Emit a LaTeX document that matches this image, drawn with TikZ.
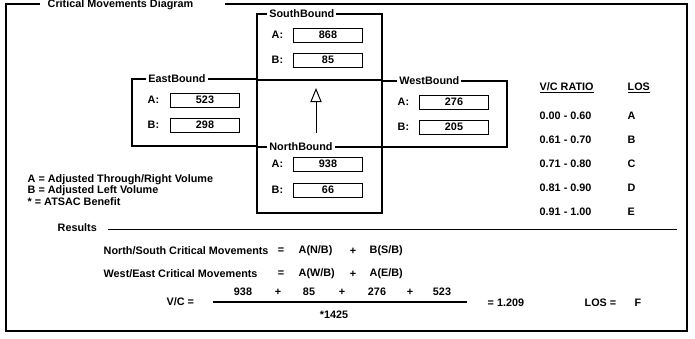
\documentclass[tikz,border=0pt]{standalone}
\usepackage{fontspec}
\setmainfont{Liberation Sans}
\usetikzlibrary{arrows.meta}

\begin{document}
\begin{tikzpicture}[x=0.025cm,y=-0.025cm,>={Triangle[open,width=8pt,length=10pt]},
    every node/.style={font=\fontsize{7.7}{9}\selectfont\bfseries,inner sep=1pt},
    frame/.style={line width=1.3pt},
    grpbox/.style={draw,line width=0.9pt},
    grptitle/.style={fill=white,anchor=west,inner sep=1.5pt},
    field/.style={draw,line width=0.6pt,minimum width=1.72cm,minimum height=0.35cm,inner sep=0pt},
    lbl/.style={anchor=west},
    txt/.style={anchor=west}]
  \useasboundingbox (0,0) rectangle (695,339);
  % outer frame
  \node[txt] (title) at (46,5) {Critical Movements Diagram};
  \draw[frame] (225,4) -- (687,4) -- (687,331) -- (6,331) -- (6,4) -- (40,4);

  % approach boxes
  \draw[grpbox] (257,14) rectangle (382,80);
  \draw[grpbox] (257,80) rectangle (382,147);
  \draw[grpbox] (132,79) rectangle (257,146);
  \draw[grpbox] (382,81) rectangle (507,147);
  \draw[grpbox] (257,147) rectangle (382,213);
  \node[grptitle] (sbtitle) at (267,14) {SouthBound};
  \node[grptitle] (ebtitle) at (146,79) {EastBound};
  \node[grptitle] (wbtitle) at (397,81) {WestBound};
  \node[grptitle] (nbtitle) at (267,147) {NorthBound};

  % SouthBound
  \node[lbl] (sbAl) at (270,35) {A:};
  \node[field] (sbA) at (328,35) {868};
  \node[lbl] (sbBl) at (270,60) {B:};
  \node[field] (sbB) at (328,60) {85};
  % EastBound
  \node[lbl] (ebAl) at (146,100) {A:};
  \node[field] (ebA) at (205,100) {523};
  \node[lbl] (ebBl) at (146,125) {B:};
  \node[field] (ebB) at (205,125) {298};
  % WestBound
  \node[lbl] (wbAl) at (396,102) {A:};
  \node[field] (wbA) at (454,102) {276};
  \node[lbl] (wbBl) at (396,127) {B:};
  \node[field] (wbB) at (454,127) {205};
  % NorthBound
  \node[lbl] (nbAl) at (270,164) {A:};
  \node[field] (nbA) at (328,164) {938};
  \node[lbl] (nbBl) at (270,190) {B:};
  \node[field] (nbB) at (328,190) {66};

  % direction arrow
  \coordinate (nbtail) at (316,133);
  \coordinate (nbhead) at (316,88);
  \draw[->,line width=0.7pt] (nbtail) -- (nbhead);

  % legend
  \node[txt,align=left,font=\fontsize{7.7}{6.8}\selectfont\bfseries] (legend) at (26,190)
    {A = Adjusted Through/Right Volume\\B = Adjusted Left Volume\\* = ATSAC Benefit};

  % V/C table
  \node[txt] (vchead) at (538,88) {\underline{V/C RATIO}};
  \node[txt] (loshead) at (626,88) {\underline{LOS}};
  \foreach \r/\l [count=\i] in {0.00 - 0.60/A, 0.61 - 0.70/B, 0.71 - 0.80/C,
      0.81 - 0.90/D, 0.91 - 1.00/E} {
    \node[txt] (range\i) at (538,92+24*\i) {\r};
    \node[txt] (los\i) at (626,92+24*\i) {\l};
  }

  % results
  \node[txt] (results) at (56,228) {Results};
  \draw[line width=0.7pt] (108,229) -- (677,229);

  \node[txt] (nsmov) at (102,251) {North/South Critical Movements};
  \node (nseq) at (281,251) {=};
  \node[txt] (nsA) at (297,251) {A(N/B)};
  \node (nsplus) at (353,251) {+};
  \node[txt] (nsB) at (368,251) {B(S/B)};

  \node[txt] (wemov) at (102,274) {West/East Critical Movements};
  \node (weeq) at (281,274) {=};
  \node[txt] (weA) at (297,274) {A(W/B)};
  \node (weplus) at (353,274) {+};
  \node[txt] (weB) at (368,274) {A(E/B)};

  \node[txt] (vc) at (165,302) {V/C =};
  \coordinate (fracL) at (213,302);
  \coordinate (fracR) at (467,302);
  \draw[line width=0.8pt] (fracL) -- (fracR);
  \foreach \v/\x [count=\i] in {938/243, +/278, 85/309, +/342, 276/377, +/410, 523/442}
    \node (num\i) at (\x,292) {\v};
  \node (den) at (334,315) {*1425};
  \node[txt] (vcres) at (486,303) {= 1.209};
  \node[txt] (loseq) at (583,303) {LOS =};
  \node[txt] (losval) at (633,303) {F};
\end{tikzpicture}
\end{document}
